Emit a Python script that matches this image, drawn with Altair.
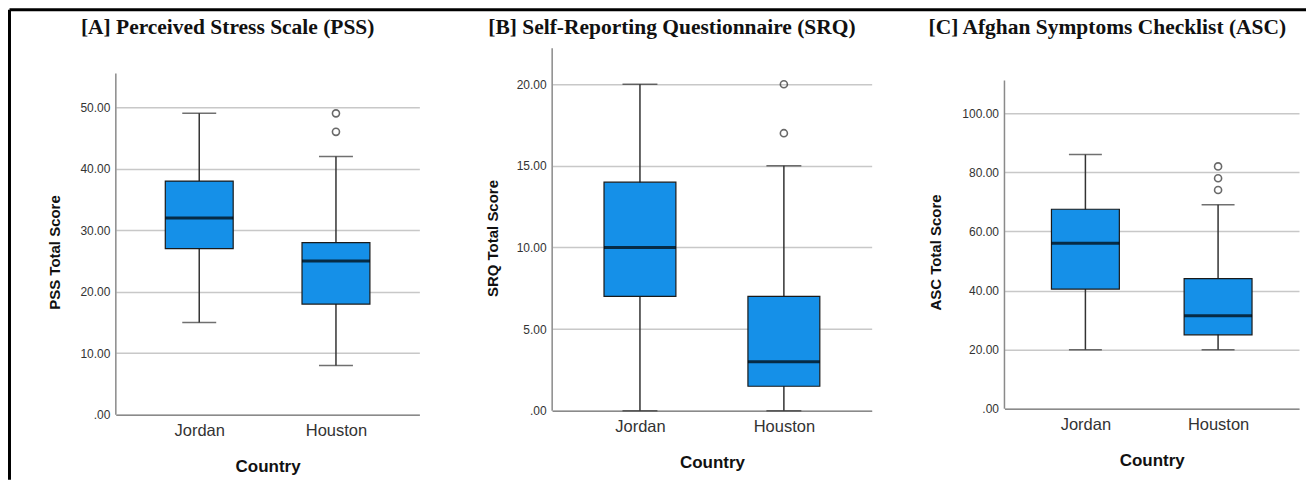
import altair as alt
import pandas as pd

countries = ["Jordan", "Houston"]

titles = ["[A] Perceived Stress Scale (PSS)",
          "[B] Self-Reporting Questionnaire (SRQ)",
          "[C] Afghan Symptoms Checklist (ASC)"]
y_titles = ["PSS Total Score", "SRQ Total Score", "ASC Total Score"]
x_title = "Country"

# PSS
pss_min = [15, 8]
pss_q1 = [27, 18]
pss_med = [32, 25]
pss_q3 = [38, 28]
pss_max = [49, 42]
pss_out_country = ["Houston", "Houston"]
pss_out_value = [46, 49]
pss_ticks = [0, 10, 20, 30, 40, 50]

# SRQ
srq_min = [0, 0]
srq_q1 = [7, 1.5]
srq_med = [10, 3]
srq_q3 = [14, 7]
srq_max = [20, 15]
srq_out_country = ["Houston", "Houston"]
srq_out_value = [17, 20]
srq_ticks = [0, 5, 10, 15, 20]

# ASC
asc_min = [20, 20]
asc_q1 = [40.5, 25]
asc_med = [56, 31.5]
asc_q3 = [67.5, 44]
asc_max = [86, 69]
asc_out_country = ["Houston", "Houston", "Houston"]
asc_out_value = [74, 78, 82]
asc_ticks = [0, 20, 40, 60, 80, 100]

BOX = "#1590e8"
LABEL_EXPR = "datum.value == 0 ? '.00' : format(datum.value, '.2f')"


def panel(title, ytitle, mins, q1s, meds, q3s, maxs, oc, ov, ticks,
          ymax, ytop, width, height, box_w, cap_w, title_x, ytx, yty,
          border=False):
    df = pd.DataFrame({"Country": countries, "min": mins, "q1": q1s,
                       "med": meds, "q3": q3s, "max": maxs})
    out = pd.DataFrame({"Country": oc, "value": ov})
    xs = alt.Scale(type="point", padding=0.61, domain=countries)
    x_axis = alt.Axis(title=x_title, labelAngle=0, ticks=False, tickSize=0,
                      domain=True, domainColor="#8a8a8a", domainWidth=1.5,
                      grid=False, labelFont="Liberation Sans",
                      labelFontSize=16.5, labelColor="#333333",
                      labelPadding=8, titleFont="Liberation Sans",
                      titleFontSize=17, titleFontWeight="bold",
                      titleColor="#111111", titleY=52,
                      titleBaseline="middle")
    y_axis = alt.Axis(values=ticks, title=ytitle, domain=False, ticks=False,
                      tickSize=0, grid=True, gridColor="#c8c8c8",
                      gridWidth=1.5, labelExpr=LABEL_EXPR,
                      labelFont="Liberation Sans", labelFontSize=12,
                      labelColor="#333333", labelPadding=6,
                      titleFont="Liberation Sans", titleFontSize=15,
                      titleFontWeight="bold", titleColor="#111111",
                      titleX=ytx, titleY=yty, titleAlign="center",
                      titleBaseline="middle", titleAngle=270)
    ys = alt.Scale(domain=[0, ymax], nice=False, zero=True)

    base = alt.Chart(df)
    whisk = base.mark_rule(color="#333333", strokeWidth=1.5).encode(
        x=alt.X("Country:N", scale=xs, axis=x_axis, sort=countries),
        y=alt.Y("min:Q", scale=ys, axis=y_axis),
        y2="max:Q",
    )
    box = base.mark_bar(fill=BOX, stroke="#1a1a1a", strokeWidth=1.2,
                        size=box_w).encode(
        x=alt.X("Country:N", sort=countries),
        y=alt.Y("q1:Q"),
        y2="q3:Q",
    )
    med = base.mark_tick(color="black", thickness=3, size=box_w).encode(
        x=alt.X("Country:N", sort=countries),
        y=alt.Y("med:Q"),
    )
    cap_lo = base.mark_tick(color="#333333", thickness=1.5,
                            size=cap_w).encode(
        x=alt.X("Country:N", sort=countries), y=alt.Y("min:Q"))
    cap_hi = base.mark_tick(color="#333333", thickness=1.5,
                            size=cap_w).encode(
        x=alt.X("Country:N", sort=countries), y=alt.Y("max:Q"))
    pts = alt.Chart(out).mark_point(shape="circle", filled=False, size=50,
                                    color="#2a2a2a",
                                    strokeWidth=1.6).encode(
        x=alt.X("Country:N", sort=countries),
        y=alt.Y("value:Q"),
    )
    yline = alt.Chart(pd.DataFrame({"a": [0]})).mark_rule(
        color="#8a8a8a", strokeWidth=1.5).encode(
        x=alt.value(0), y=alt.Y(datum=0), y2=alt.datum(ytop))
    ttl = alt.Chart(pd.DataFrame({"t": [title]})).mark_text(
        font="Liberation Serif", fontSize=21.5, fontWeight="bold",
        color="#111111", align="center", baseline="alphabetic").encode(
        text="t:N", x=alt.value(title_x), y=alt.value(-14))
    layers = [whisk, box, med, cap_lo, cap_hi, pts, yline, ttl]
    if border:
        bdf = pd.DataFrame({"a": [0]})
        left = alt.Chart(bdf).mark_rule(color="black", strokeWidth=3).encode(
            x=alt.value(-106.5), y=alt.value(-38.5), y2=alt.value(432))
        top = alt.Chart(bdf).mark_rule(color="black", strokeWidth=3).encode(
            x=alt.value(-106.5), x2=alt.value(1192), y=alt.value(-38.5))
        layers += [left, top]
    return alt.layer(*layers).properties(width=width, height=height)


pA = panel(titles[0], y_titles[0], pss_min, pss_q1, pss_med, pss_q3, pss_max,
           pss_out_country, pss_out_value, pss_ticks, 59.58, 55.5,
           304, 367, 68, 34, 112, -61, 204, border=True)
pB = panel(titles[1], y_titles[1], srq_min, srq_q1, srq_med, srq_q3, srq_max,
           srq_out_country, srq_out_value, srq_ticks, 22.2, 22.2,
           320, 363, 72, 35, 120, -60, 190)
pC = panel(titles[2], y_titles[2], asc_min, asc_q1, asc_med, asc_q3, asc_max,
           asc_out_country, asc_out_value, asc_ticks, 121.96, 111.1,
           295, 361, 68, 33, 103, -69, 204)

chart = alt.hconcat(pA, pB, pC, spacing=133, bounds="flush").properties(
    padding=0, background="white"
).configure_view(stroke=None)

chart.save("out.html", embed_options={"renderer": "svg", "actions": False})
